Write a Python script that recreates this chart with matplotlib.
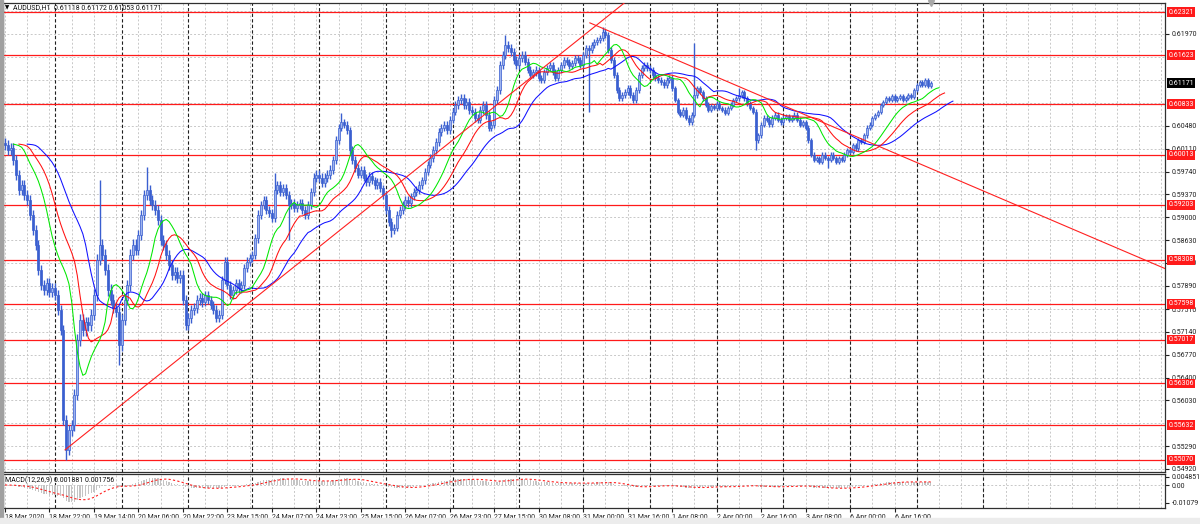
import matplotlib
matplotlib.use("Agg")
import matplotlib.pyplot as plt
from matplotlib.patches import Rectangle
import numpy as np
import pandas as pd

# hourly closes, 18 Mar 2020 06:00 -> 7 Apr 2020 ~05:00
closes = [
    0.6017, 0.6009, 0.6012, 0.5993, 0.5969, 0.5944, 0.5952, 0.5936, 0.5928, 0.5904, 0.5879,
    0.5855, 0.5815, 0.5790, 0.5782, 0.5793, 0.5779, 0.5785, 0.5774,
    0.5750, 0.5717, 0.5571, 0.5522, 0.5555, 0.5563, 0.5612, 0.5701, 0.5734, 0.5717, 0.5730, 0.5725,
    0.5742, 0.5774, 0.5831, 0.5855, 0.5839, 0.5815, 0.5782, 0.5766, 0.5753, 0.5747, 0.5693, 0.5734,
    0.5766, 0.5790, 0.5839, 0.5855, 0.5847, 0.5871, 0.5904, 0.5936, 0.5944, 0.5928, 0.5920, 0.5912,
    0.5896, 0.5863, 0.5855, 0.5839, 0.5823, 0.5806, 0.5811, 0.5802, 0.5806, 0.5766, 0.5725,
    0.5737, 0.5750, 0.5753, 0.5766, 0.5769, 0.5763, 0.5774, 0.5766, 0.5758, 0.5750, 0.5737, 0.5742,
    0.5798, 0.5828, 0.5790, 0.5774, 0.5782,
    0.5793, 0.5785, 0.5790, 0.5818, 0.5828, 0.5834, 0.5839, 0.5866, 0.5904, 0.5920, 0.5928, 0.5912,
    0.5907, 0.5899,
    0.5944, 0.5952, 0.5941, 0.5947, 0.5936, 0.5920, 0.5923, 0.5915, 0.5920, 0.5923, 0.5912, 0.5904,
    0.5920, 0.5941, 0.5964, 0.5969, 0.5964, 0.5956, 0.5964, 0.5969, 0.5977, 0.5993, 0.6025, 0.6045,
    0.6054, 0.6050, 0.6041, 0.6009,
    0.5993, 0.5980, 0.5969, 0.5977, 0.5964, 0.5957, 0.5967, 0.5960, 0.5952, 0.5957, 0.5947, 0.5936,
    0.5912, 0.5892, 0.5879, 0.5883, 0.5904, 0.5912, 0.5920, 0.5928, 0.5923, 0.5934, 0.5941, 0.5944,
    0.5952, 0.5960, 0.5974, 0.5985, 0.5996, 0.6009, 0.6022, 0.6038, 0.6045, 0.6050,
    0.6041, 0.6058, 0.6071, 0.6082, 0.6090, 0.6093, 0.6082, 0.6087, 0.6074, 0.6071, 0.6061, 0.6058,
    0.6074, 0.6082, 0.6066, 0.6045, 0.6050,
    0.6090, 0.6106, 0.6147, 0.6163, 0.6179, 0.6174, 0.6168, 0.6155, 0.6147, 0.6158, 0.6163, 0.6152,
    0.6139, 0.6131, 0.6135, 0.6139, 0.6126, 0.6123, 0.6135, 0.6142, 0.6147, 0.6135, 0.6126, 0.6139,
    0.6147, 0.6155, 0.6152, 0.6145, 0.6150, 0.6158, 0.6155, 0.6147, 0.6163, 0.6174, 0.6171, 0.6179,
    0.6184, 0.6187, 0.6190, 0.6200, 0.6195,
    0.6171, 0.6155, 0.6131, 0.6106, 0.6093, 0.6098, 0.6103, 0.6109, 0.6098, 0.6090, 0.6106, 0.6131,
    0.6142, 0.6147, 0.6142, 0.6139, 0.6131, 0.6126, 0.6123, 0.6119, 0.6114, 0.6123, 0.6126, 0.6109,
    0.6090, 0.6071, 0.6066, 0.6074, 0.6061, 0.6054, 0.6066,
    0.6098, 0.6109, 0.6103, 0.6093, 0.6082, 0.6074, 0.6080, 0.6077, 0.6084, 0.6077, 0.6074, 0.6069,
    0.6077, 0.6082, 0.6090, 0.6093, 0.6098, 0.6103, 0.6093, 0.6085, 0.6077, 0.6071,
    0.6025, 0.6033, 0.6050, 0.6061, 0.6058, 0.6051, 0.6061, 0.6066, 0.6058, 0.6054, 0.6061, 0.6064,
    0.6058, 0.6061, 0.6066, 0.6058, 0.6050, 0.6054, 0.6045, 0.6025, 0.6001, 0.5993, 0.5996, 0.5990,
    0.6001, 0.5996, 0.5993, 0.6001, 0.5996, 0.5990, 0.5996, 0.5993, 0.6001, 0.6009,
    0.6006, 0.6017, 0.6012, 0.6025, 0.6022, 0.6033, 0.6045, 0.6050, 0.6061, 0.6066, 0.6071, 0.6082,
    0.6087, 0.6093, 0.6090, 0.6097, 0.6090, 0.6093, 0.6097, 0.6090, 0.6093, 0.6098, 0.6095, 0.6106,
    0.6114, 0.6119, 0.6114, 0.6123, 0.6113, 0.61171,
]
first_open = 0.6020
# typical wick length per trading day (24 bars)
wick_by_day = [0.0008, 0.0009, 0.0008, 0.0007, 0.0007, 0.0006, 0.0006,
               0.0006, 0.0005, 0.0005, 0.0004, 0.0004, 0.0004, 0.0003]
spike_highs = {34: 0.5960, 51: 0.5981, 97: 0.5972, 121: 0.6069, 180: 0.6195,
               215: 0.6208, 248: 0.6182, 264: 0.6109}
spike_lows = {22: 0.5507, 41: 0.5661, 102: 0.5863, 139: 0.5868, 210: 0.6071,
              270: 0.6009, 296: 0.5980}

levels = [0.62321, 0.61623, 0.60833, 0.60013, 0.59203, 0.58308,
          0.57598, 0.57017, 0.56306, 0.55632, 0.55070]
grid_ticks = [0.62340, 0.61970, 0.61600, 0.61230, 0.60850, 0.60480, 0.60110,
              0.59740, 0.59370, 0.59000, 0.58630, 0.58260, 0.57890, 0.57510,
              0.57140, 0.56770, 0.56400, 0.56030, 0.55660, 0.55290, 0.54920]
# grid values whose labels are hidden behind a level box in the reference
hidden_ticks = [0.62340, 0.61600, 0.61230, 0.60850, 0.55660]
time_labels = ["18 Mar 2020", "18 Mar 22:00", "19 Mar 14:00", "20 Mar 06:00",
               "20 Mar 22:00", "23 Mar 15:00", "24 Mar 07:00", "24 Mar 23:00",
               "25 Mar 15:00", "26 Mar 07:00", "26 Mar 23:00", "27 Mar 15:00",
               "30 Mar 08:00", "31 Mar 00:00", "31 Mar 16:00", "1 Apr 08:00",
               "2 Apr 00:00", "2 Apr 16:00", "3 Apr 08:00", "6 Apr 00:00",
               "6 Apr 16:00"]
day_starts = [18, 42, 66, 89, 113, 137, 161, 185, 208, 232, 256, 280, 304, 328, 352]
trend_up = [(21.6, 0.5523), (124.1, 0.5892)]
trend_down = [(210.4, 0.6215), (260.8, 0.6118)]
bid = 0.61171
title = "AUDUSD,H1  0.61118 0.61172 0.61053 0.61171"
macd_title = "MACD(12,26,9) 0.001881 0.001756"
macd_ticks = [0.004851, 0.0, -0.01079]
macd_ticklabels = ["0.004851", "0.00", "-0.01079"]

plt.rcParams['font.family'] = ['Roboto', 'DejaVu Sans']

n = len(closes)
idx = np.arange(n)
c = np.array(closes)
o = np.r_[first_open, c[:-1]]
wick = np.repeat(wick_by_day, 24)[:n]
h = np.maximum(o, c) + wick
l = np.minimum(o, c) - wick
for i, v in spike_highs.items():
    h[i] = max(h[i], v)
for i, v in spike_lows.items():
    l[i] = min(l[i], v)

W, H = 1200, 524
fig = plt.figure(figsize=(12, 5.24), dpi=100)
fig.patch.set_facecolor('white')
fig.patches.append(Rectangle((0, 0), 3 / W, 1, transform=fig.transFigure, color='#a0a0a0', zorder=0))
fig.patches.append(Rectangle((0, 0), 1, 6 / H, transform=fig.transFigure, color='#ececec', zorder=0))

ax = fig.add_axes([3 / W, 52 / H, 1162 / W, 469 / H])
mx = fig.add_axes([3 / W, 16 / H, 1162 / W, 34 / H], sharex=ax)

xmax = 417.3
ax.set_xlim(-0.72, xmax)
ax.set_ylim(0.54871, 0.62472)
mx.set_ylim(-0.0138, 0.0066)

dash_g = (0, (2, 2))
for a in (ax, mx):
    for g in range(0, 417, 8):
        a.axvline(g, color='#c8c8c8', ls=dash_g, lw=0.7, zorder=0)
    for d in day_starts:
        a.axvline(d, color='#202020', ls=(0, (3, 2)), lw=0.8, zorder=0.5)
    for s in a.spines.values():
        s.set_color('#303030')
        s.set_linewidth(0.9)
for t in grid_ticks:
    ax.axhline(t, color='#c8c8c8', ls=dash_g, lw=0.7, zorder=0)
mx.axhline(0, color='#c8c8c8', ls=dash_g, lw=0.7, zorder=0)

# support / resistance levels
for v in levels:
    ax.axhline(v, color='#ff1a1a', lw=0.9, zorder=1)

# candles
up = c >= o
ax.vlines(idx, l, h, color='#3a5fd0', lw=1.0, zorder=2)
body = np.maximum(np.abs(c - o), 0.00006)
ax.bar(idx, body, bottom=np.minimum(o, c), width=0.72,
       color=np.where(up, '#9fb4ee', '#3a5fd0'), edgecolor='#3a5fd0', lw=0.5, zorder=2)

# alligator (SMMA of median price, shifted forward)
med = pd.Series((h + l) / 2)
for period, shift, col in [(13, 8, '#1010ff'), (8, 5, '#ff1010'), (5, 3, '#00e800')]:
    line = med.ewm(alpha=1 / period, adjust=False).mean()
    ax.plot(idx + shift, line, color=col, lw=0.75, zorder=3)

# trend lines
for (x1, y1), (x2, y2) in [trend_up, trend_down]:
    s = (y2 - y1) / (x2 - x1)
    ax.plot([x1, xmax + 5], [y1, y1 + s * (xmax + 5 - x1)], color='#ff2020', lw=0.8, zorder=3)

# price scale
shown = [t for t in grid_ticks if t not in hidden_ticks]
ax.yaxis.tick_right()
ax.set_yticks(shown)
ax.set_yticklabels([f"{t:.5f}" for t in shown])
ax.tick_params(axis='y', labelsize=5, length=3, pad=2, colors='#202020')
ax.tick_params(axis='x', labelbottom=False, length=0)
for v in levels:
    ax.text(1.0028, v, f"{v:.5f}", transform=ax.get_yaxis_transform(), ha='left', va='center',
            fontsize=5, color='white', clip_on=False, zorder=5,
            bbox=dict(boxstyle='square,pad=0.2', fc='#ff1a1a', ec='none'))
ax.text(1.0028, bid, f"{bid:.5f}", transform=ax.get_yaxis_transform(), ha='left', va='center',
        fontsize=5, color='white', clip_on=False, zorder=5,
        bbox=dict(boxstyle='square,pad=0.2', fc='black', ec='none'))
ax.plot([n - 1], [1.0], marker='v', ms=4, color='#a8a8a8', transform=ax.get_xaxis_transform(),
        clip_on=False, zorder=5)

# MACD
cs = pd.Series(c)
macd = cs.ewm(span=12, adjust=False).mean() - cs.ewm(span=26, adjust=False).mean()
signal = macd.rolling(9, min_periods=1).mean()
mx.bar(idx, macd, width=0.45, color='#c4c4c4', zorder=1)
mx.plot(idx, signal, color='#ff2020', ls=(0, (2, 2)), lw=0.8, zorder=2)
mx.yaxis.tick_right()
mx.set_yticks(macd_ticks)
mx.set_yticklabels(macd_ticklabels)
mx.tick_params(axis='y', labelsize=5, length=3, pad=2, colors='#202020')
mx.set_xticks(range(0, 16 * len(time_labels), 16))
mx.set_xticklabels(time_labels, ha='left')
mx.tick_params(axis='x', labelsize=5, length=3, pad=1.5, colors='#202020')

fig.text(5 / W, 1 - 8 / H, '\u25bc', fontsize=4, va='center', family='DejaVu Sans')
fig.text(13 / W, 1 - 8 / H, title, fontsize=5, va='center', color='#101010')
fig.text(5 / W, 1 - 480 / H, macd_title, fontsize=5, va='center', color='#101010')

fig.savefig('out.png', dpi=100, facecolor=fig.get_facecolor())
